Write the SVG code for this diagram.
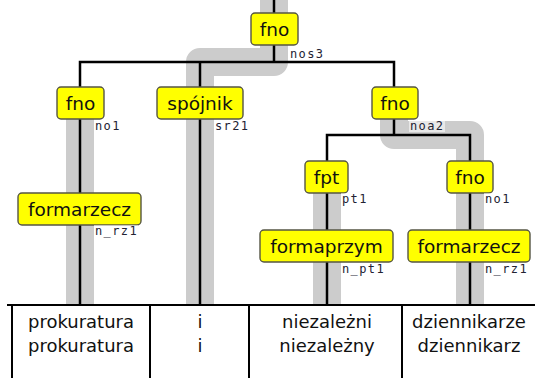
<svg xmlns="http://www.w3.org/2000/svg" width="535" height="378" viewBox="0 0 535 378">
<style>
.band{fill:none;stroke:#cccccc;stroke-width:28;stroke-linejoin:round;stroke-linecap:butt}
.edge{fill:none;stroke:#000;stroke-width:2.5}
.box{fill:#ffff00;stroke:#555544;stroke-width:1.4}
.lbl{font-family:"DejaVu Sans",sans-serif;font-size:18.5px;fill:#111;text-anchor:middle}
.tag{font-family:"DejaVu Sans Mono",monospace;font-size:12px;letter-spacing:1.4px;fill:#223}
.tagbg{fill:#ffffff;fill-opacity:0.55}
.word{font-family:"DejaVu Sans",sans-serif;font-size:18px;fill:#111;text-anchor:middle}
.grid{fill:none;stroke:#000;stroke-width:2}
</style>
<g id="bands">
<path class="band" d="M274,0 V62 H200 V305"/>
<path class="band" d="M80,119 V305"/>
<path class="band" d="M394,119 V135 H470 V305"/>
<path class="band" d="M327,193 V305"/>
</g>
<g id="connectors">
<path class="edge" d="M274,0 V62"/>
<path class="edge" d="M80,305 V62 H394 V135"/>
<path class="edge" d="M200,62 V305"/>
<path class="edge" d="M327,305 V135 H470 V305"/>
</g>
<g id="table">
<path class="grid" d="M7,305 H535"/>
<path class="grid" d="M12,305 V378 M150,305 V378 M249,305 V378 M402,305 V378"/>
</g>
<g id="root">
<rect class="box" x="251" y="13" width="47" height="32" rx="4"/>
<text class="lbl" x="274.5" y="35.5">fno</text>
<rect class="tagbg" x="289" y="48" width="36" height="12"/>
<text class="tag" x="290" y="58">nos3</text>
</g>
<g id="n-fno-left">
<rect class="box" x="57" y="87" width="47" height="32" rx="4"/>
<text class="lbl" x="80.5" y="109.5">fno</text>
<rect class="tagbg" x="94" y="120" width="28" height="12"/>
<text class="tag" x="95" y="130">no1</text>
</g>
<g id="n-spojnik">
<rect class="box" x="157" y="87" width="86" height="32" rx="4"/>
<text class="lbl" x="200" y="109.5">spójnik</text>
<rect class="tagbg" x="214" y="120" width="36" height="12"/>
<text class="tag" x="215" y="130">sr21</text>
</g>
<g id="n-fno-mid">
<rect class="box" x="372" y="87" width="46" height="32" rx="4"/>
<text class="lbl" x="395" y="109.5">fno</text>
<rect class="tagbg" x="409" y="120" width="36" height="12"/>
<text class="tag" x="410" y="130">noa2</text>
</g>
<g id="n-formarzecz-left">
<rect class="box" x="18" y="193" width="123" height="32" rx="4"/>
<text class="lbl" x="79.5" y="215.5">formarzecz</text>
<rect class="tagbg" x="94" y="225" width="44" height="12"/>
<text class="tag" x="95" y="235">n_rz1</text>
</g>
<g id="n-fpt">
<rect class="box" x="305" y="161" width="43" height="32" rx="4"/>
<text class="lbl" x="326.5" y="183.5">fpt</text>
<rect class="tagbg" x="341" y="193" width="28" height="12"/>
<text class="tag" x="342" y="203">pt1</text>
</g>
<g id="n-fno-right">
<rect class="box" x="447" y="161" width="46" height="32" rx="4"/>
<text class="lbl" x="470" y="183.5">fno</text>
<rect class="tagbg" x="484" y="193" width="28" height="12"/>
<text class="tag" x="485" y="203">no1</text>
</g>
<g id="n-formaprzym">
<rect class="box" x="260" y="230" width="133" height="32" rx="4"/>
<text class="lbl" x="326.5" y="252.5">formaprzym</text>
<rect class="tagbg" x="341" y="263" width="44" height="12"/>
<text class="tag" x="342" y="273">n_pt1</text>
</g>
<g id="n-formarzecz-right">
<rect class="box" x="408" y="230" width="122" height="32" rx="4"/>
<text class="lbl" x="469" y="252.5">formarzecz</text>
<rect class="tagbg" x="484" y="263" width="44" height="12"/>
<text class="tag" x="485" y="273">n_rz1</text>
</g>
<g id="words">
<text class="word" x="81" y="328">prokuratura</text>
<text class="word" x="81" y="352">prokuratura</text>
<text class="word" x="200" y="328">i</text>
<text class="word" x="200" y="352">i</text>
<text class="word" x="327" y="328">niezależni</text>
<text class="word" x="327" y="352">niezależny</text>
<text class="word" x="469" y="328">dziennikarze</text>
<text class="word" x="469" y="352">dziennikarz</text>
</g>
</svg>
